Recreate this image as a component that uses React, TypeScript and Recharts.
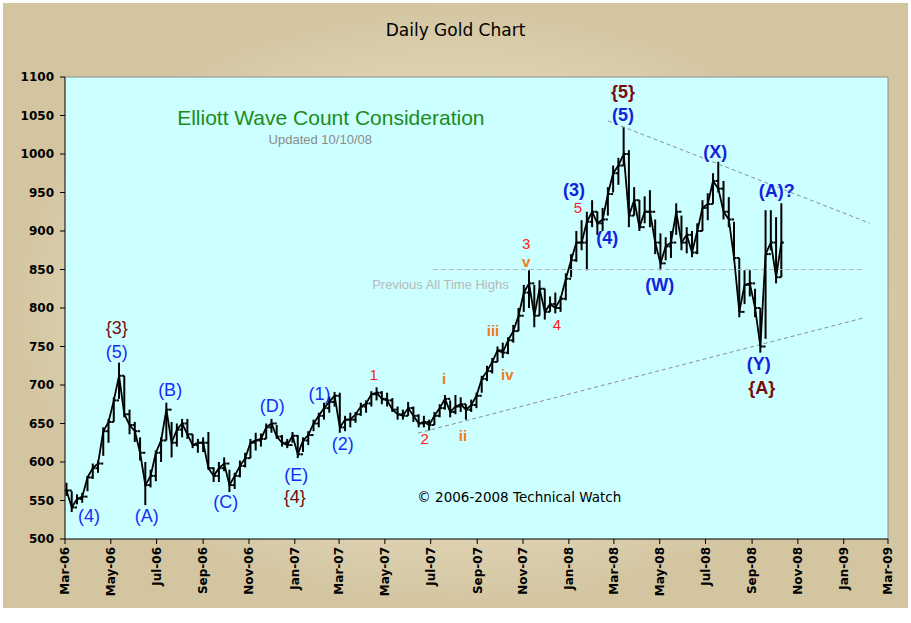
import React from 'react';
import { ComposedChart, Bar, Line, Scatter, XAxis, YAxis, ReferenceLine, CartesianGrid } from 'recharts';

const START = Date.UTC(2006, 2, 1);
const dayOf = (iso: string) => Math.round((Date.parse(iso + 'T00:00:00Z') - START) / 86400000);

// weekly bars (week ending Friday)
const weekDates = [
  '2006-03-03','2006-03-10','2006-03-17','2006-03-24','2006-03-31',
  '2006-04-07','2006-04-14','2006-04-21','2006-04-28',
  '2006-05-05','2006-05-12','2006-05-19','2006-05-26',
  '2006-06-02','2006-06-09','2006-06-16','2006-06-23','2006-06-30',
  '2006-07-07','2006-07-14','2006-07-21','2006-07-28',
  '2006-08-04','2006-08-11','2006-08-18','2006-08-25',
  '2006-09-01','2006-09-08','2006-09-15','2006-09-22','2006-09-29',
  '2006-10-06','2006-10-13','2006-10-20','2006-10-27',
  '2006-11-03','2006-11-10','2006-11-17','2006-11-24',
  '2006-12-01','2006-12-08','2006-12-15','2006-12-22','2006-12-29',
  '2007-01-05','2007-01-12','2007-01-19','2007-01-26',
  '2007-02-02','2007-02-09','2007-02-16','2007-02-23',
  '2007-03-02','2007-03-09','2007-03-16','2007-03-23','2007-03-30',
  '2007-04-06','2007-04-13','2007-04-20','2007-04-27',
  '2007-05-04','2007-05-11','2007-05-18','2007-05-25',
  '2007-06-01','2007-06-08','2007-06-15','2007-06-22','2007-06-29',
  '2007-07-06','2007-07-13','2007-07-20','2007-07-27',
  '2007-08-03','2007-08-10','2007-08-17','2007-08-24','2007-08-31',
  '2007-09-07','2007-09-14','2007-09-21','2007-09-28',
  '2007-10-05','2007-10-12','2007-10-19','2007-10-26',
  '2007-11-02','2007-11-09','2007-11-16','2007-11-23','2007-11-30',
  '2007-12-07','2007-12-14','2007-12-21','2007-12-28',
  '2008-01-04','2008-01-11','2008-01-18','2008-01-25',
  '2008-02-01','2008-02-08','2008-02-15','2008-02-22','2008-02-29',
  '2008-03-07','2008-03-14','2008-03-21','2008-03-28',
  '2008-04-04','2008-04-11','2008-04-18','2008-04-25',
  '2008-05-02','2008-05-09','2008-05-16','2008-05-23','2008-05-30',
  '2008-06-06','2008-06-13','2008-06-20','2008-06-27',
  '2008-07-04','2008-07-11','2008-07-18','2008-07-25',
  '2008-08-01','2008-08-08','2008-08-15','2008-08-22','2008-08-29',
  '2008-09-05','2008-09-12','2008-09-19','2008-09-26',
  '2008-10-03','2008-10-10',
];

const weekHigh = [
  573, 562, 558, 560, 582,
  598, 602, 645, 656,
  684, 729, 712, 668,
  652, 632, 600, 590, 615,
  632, 677, 652, 650,
  656, 656, 636, 630,
  632, 639, 593, 600, 606,
  590, 586, 602, 612,
  630, 638, 637, 650,
  656, 648, 635, 630, 639,
  635, 632, 640, 655,
  664, 677, 685, 691,
  690, 660, 664, 665, 677,
  680, 692, 697, 692,
  690, 683, 672, 668,
  678, 672, 662, 660, 655,
  665, 675, 687, 680,
  687, 684, 675, 681, 690,
  712, 725, 735, 750,
  755, 762, 778, 800,
  830, 849, 830, 836, 825,
  815, 820, 815, 845,
  870, 900, 914, 925,
  940, 925, 930, 957, 985,
  995, 1035, 1005, 957,
  940, 945, 953, 915,
  897, 892, 900, 936, 920,
  905, 900, 910, 940,
  949, 975, 990, 965,
  944, 912, 865, 849, 849,
  825, 800, 927, 927,
  918, 936,
];

const weekLow = [
  556, 535, 545, 547, 562,
  578, 586, 608, 625,
  652, 682, 658, 636,
  626, 602, 544, 567, 575,
  600, 628, 606, 620,
  632, 630, 618, 612,
  613, 590, 574, 574, 588,
  561, 565, 580, 593,
  605, 615, 620, 630,
  638, 630, 620, 618, 625,
  605, 613, 622, 640,
  645, 655, 664, 672,
  638, 640, 645, 651, 660,
  664, 672, 680, 675,
  672, 665, 655, 655,
  660, 652, 645, 645, 641,
  648, 658, 668, 658,
  662, 665, 655, 665, 670,
  690, 705, 715, 730,
  735, 740, 755, 770,
  795, 800, 775, 790, 785,
  795, 793, 795, 810,
  840, 860, 875, 849,
  905, 895, 900, 920, 950,
  960, 985, 905, 920,
  900, 910, 905, 870,
  849, 862, 865, 895, 875,
  871, 866, 870, 900,
  914, 935, 950, 915,
  905, 862, 788, 805, 815,
  788, 742, 760, 875,
  832, 840,
];

const weekClose = [
  563, 541, 552, 555, 580,
  592, 598, 640, 652,
  680, 712, 662, 648,
  640, 612, 570, 582, 612,
  628, 668, 625, 642,
  650, 636, 622, 625,
  625, 592, 582, 592, 598,
  570, 582, 595, 605,
  625, 628, 630, 645,
  650, 633, 625, 622, 634,
  610, 628, 635, 650,
  660, 670, 678, 686,
  645, 655, 655, 662, 672,
  676, 688, 690, 682,
  680, 668, 662, 660,
  670, 660, 650, 652, 648,
  660, 670, 682, 665,
  672, 675, 668, 674, 686,
  708, 718, 730, 745,
  742, 758, 770, 790,
  820, 832, 790, 825, 795,
  805, 800, 812, 838,
  862, 885, 885, 912,
  925, 910, 915, 948, 975,
  985, 1000, 920, 940,
  905, 925, 925, 885,
  858, 880, 885, 925, 885,
  895, 872, 900, 930,
  935, 965, 955, 925,
  915, 865, 795, 830, 832,
  800, 750, 870, 885,
  840, 885,
];

const tickDates = [
  '2006-03-01','2006-05-01','2006-07-01','2006-09-01','2006-11-01',
  '2007-01-01','2007-03-01','2007-05-01','2007-07-01','2007-09-01','2007-11-01',
  '2008-01-01','2008-03-01','2008-05-01','2008-07-01','2008-09-01','2008-11-01',
  '2009-01-01','2009-03-01',
];
const tickLabels = [
  'Mar-06','May-06','Jul-06','Sep-06','Nov-06',
  'Jan-07','Mar-07','May-07','Jul-07','Sep-07','Nov-07',
  'Jan-08','Mar-08','May-08','Jul-08','Sep-08','Nov-08',
  'Jan-09','Mar-09',
];
const yTicks = [500, 550, 600, 650, 700, 750, 800, 850, 900, 950, 1000, 1050, 1100];

// wave labels: text, anchor date, anchor price, style kind
const waveTexts = ['(4)','{3}','(5)','(A)','(B)','(C)','(D)','(E)','{4}','(1)','(2)','1','2','i','ii','iii','iv','3','v','4','5','(3)','(4)','{5}','(5)','(W)','(X)','(A)?','(Y)','{A}'];
const waveDates = ['2006-04-02','2006-05-09','2006-05-09','2006-06-18','2006-07-19','2006-10-01','2006-12-02','2007-01-03','2007-01-01','2007-02-03','2007-03-06','2007-04-16','2007-06-23','2007-07-19','2007-08-13','2007-09-22','2007-10-11','2007-11-05','2007-11-05','2007-12-16','2008-01-13','2008-01-08','2008-02-21','2008-03-13','2008-03-13','2008-05-01','2008-07-14','2008-10-04','2008-09-10','2008-09-14'];
const wavePrices = [530, 774, 743, 530, 693, 548, 673, 583, 555, 688, 624, 714, 631, 708, 634, 771, 714, 884, 861, 779, 930, 953, 891, 1080, 1051, 830, 1003, 952, 727, 696];
const waveKinds = ['blue','major','blue','blue','blue','blue','blue','blue','major','blue','blue','minor','minor','sub','sub','sub','sub','minor','sub','minor','minor','blueB','blueB','majorB','blueB','blueB','blueB','blueB','blueB','majorB'];

const noteTexts = ['Elliott Wave Count Consideration', 'Updated 10/10/08', 'Previous All Time Highs', '\u00A9 2006-2008 Technical Watch'];
const noteDates = ['2007-02-18', '2007-02-04', '2007-07-14', '2007-10-27'];
const notePrices = [1047, 1019, 831, 555];
const noteKinds = ['headline', 'updated', 'prev', 'copy'];

// trend lines
const prevHigh = 850;
const prevHighFrom = '2007-07-04';
const prevHighTo = '2009-01-27';
const lowerLine = { from: '2007-06-14', fromV: 637.5, to: '2009-01-27', toV: 787 };
const upperLine = { from: '2008-02-22', fromV: 1043, to: '2009-02-05', toV: 910 };

const SANS = 'Liberation Sans, Arial, sans-serif';
const VERD = 'DejaVu Sans, Verdana, sans-serif';
const STYLES: Record<string, any> = {
  blue: { fill: '#1a2cf5', fontSize: 18, fontWeight: 'normal', fontFamily: SANS },
  blueB: { fill: '#1522dc', fontSize: 18, fontWeight: 'bold', fontFamily: SANS },
  major: { fill: '#7a0c0c', fontSize: 18, fontWeight: 'normal', fontFamily: SANS },
  majorB: { fill: '#7a0c0c', fontSize: 18, fontWeight: 'bold', fontFamily: SANS },
  minor: { fill: '#ff2020', fontSize: 15, fontWeight: 'normal', fontFamily: SANS },
  sub: { fill: '#f07a20', fontSize: 15, fontWeight: 'bold', fontFamily: SANS },
  headline: { fill: '#1a8c1a', fontSize: 21, fontWeight: 'normal', fontFamily: SANS },
  updated: { fill: '#8a8a8a', fontSize: 13, fontWeight: 'normal', fontFamily: SANS },
  prev: { fill: '#b8b8b8', fontSize: 13, fontWeight: 'normal', fontFamily: SANS },
  copy: { fill: '#000000', fontSize: 13.5, fontWeight: 'normal', fontFamily: VERD },
};

const barData = weekDates.map((d, i) => ({
  t: dayOf(d),
  high: weekHigh[i],
  low: weekLow[i],
  close: weekClose[i],
  open: i > 0 ? weekClose[i - 1] : weekClose[i],
  range: [weekLow[i], weekHigh[i]],
}));

const labelData = [
  ...waveTexts.map((s, i) => ({ t: dayOf(waveDates[i]), v: wavePrices[i], text: s, kind: waveKinds[i] })),
  ...noteTexts.map((s, i) => ({ t: dayOf(noteDates[i]), v: notePrices[i], text: s, kind: noteKinds[i] })),
];

const tickDays = tickDates.map(dayOf);
const tickMap: Record<number, string> = {};
tickDays.forEach((d, i) => { tickMap[d] = tickLabels[i]; });

const OhlcShape = (props: any) => {
  const { x, y, width, height, payload } = props;
  if (x == null || y == null || height == null) return null;
  const top = Math.min(y, y + height);
  const h = Math.abs(height);
  const cx = x + width / 2;
  const span = payload.high - payload.low;
  const yc = span > 0 ? top + (h * (payload.high - payload.close)) / span : top;
  const yo = span > 0 ? top + (h * (payload.high - payload.open)) / span : top;
  return (
    <g>
      <line x1={cx} x2={cx} y1={top} y2={top + h} stroke="#000" strokeWidth={2} />
      <line x1={cx - 2.5} x2={cx} y1={yo} y2={yo} stroke="#000" strokeWidth={2} />
      <line x1={cx} x2={cx + 2.5} y1={yc} y2={yc} stroke="#000" strokeWidth={2} />
    </g>
  );
};

const LabelShape = (props: any) => {
  const { cx, cy, payload } = props;
  if (cx == null || cy == null) return null;
  const st = STYLES[payload.kind];
  return (
    <text x={cx} y={cy} textAnchor="middle" dominantBaseline="central" {...st}>
      {payload.text}
    </text>
  );
};

const XTick = (props: any) => {
  const { x, y, payload } = props;
  return (
    <text
      x={x}
      y={y + 1}
      transform={`rotate(-90, ${x}, ${y + 1})`}
      textAnchor="end"
      dy="0.36em"
      fontSize={12}
      fontWeight="bold"
      fontFamily={VERD}
      fill="#000"
    >
      {tickMap[payload.value]}
    </text>
  );
};

export default function App() {
  return (
    <div style={{ position: 'absolute', left: 0, top: 0, width: 911, height: 623, background: '#ffffff', overflow: 'hidden' }}>
      <div
        style={{
          position: 'absolute', left: 3, top: 3, width: 905, height: 605,
          background: 'radial-gradient(ellipse farthest-side at 50% 50%, #ece3ca 0%, #e6dcc0 55%, #d3c5a0 100%)',
        }}
      />
      <div
        style={{
          position: 'absolute', left: 0, top: 19, width: 911, textAlign: 'center',
          fontFamily: VERD, fontSize: 17, color: '#000', lineHeight: '22px',
        }}
      >
        Daily Gold Chart
      </div>
      <div style={{ position: 'absolute', left: 0, top: 0 }}>
        <ComposedChart width={911} height={623} data={barData} margin={{ top: 77, right: 23, bottom: 34, left: 8 }}>
          <CartesianGrid horizontal={false} vertical={false} fill="#ccffff" stroke="none" />
          <XAxis
            type="number"
            dataKey="t"
            domain={[0, 1096]}
            ticks={tickDays}
            interval={0}
            tick={<XTick />}
            tickSize={5}
            height={50}
            axisLine={{ stroke: '#000' }}
            tickLine={{ stroke: '#000' }}
            allowDataOverflow
          />
          <YAxis
            type="number"
            domain={[500, 1100]}
            ticks={yTicks}
            interval={0}
            width={57}
            tickSize={5}
            tickMargin={6}
            axisLine={{ stroke: '#000' }}
            tickLine={{ stroke: '#000' }}
            tick={{ fontSize: 12, fontWeight: 'bold', fontFamily: VERD, fill: '#000' }}
            allowDataOverflow
          />
          <ReferenceLine y={1100} stroke="#8c8c8c" />
          <ReferenceLine x={1096} stroke="#8c8c8c" />
          <ReferenceLine
            segment={[{ x: dayOf(prevHighFrom), y: prevHigh }, { x: dayOf(prevHighTo), y: prevHigh }]}
            stroke="#b4b4b4" strokeDasharray="5 3"
          />
          <ReferenceLine
            segment={[{ x: dayOf(lowerLine.from), y: lowerLine.fromV }, { x: dayOf(lowerLine.to), y: lowerLine.toV }]}
            stroke="#8e8e8e" strokeDasharray="4 3"
          />
          <ReferenceLine
            segment={[{ x: dayOf(upperLine.from), y: upperLine.fromV }, { x: dayOf(upperLine.to), y: upperLine.toV }]}
            stroke="#8e8e8e" strokeDasharray="4 3"
          />
          <Line dataKey="close" stroke="#000" strokeWidth={1.8} dot={false} isAnimationActive={false} />
          <Bar dataKey="range" barSize={2} shape={<OhlcShape />} isAnimationActive={false} />
          <Scatter data={labelData} dataKey="v" shape={<LabelShape />} isAnimationActive={false} />
        </ComposedChart>
      </div>
    </div>
  );
}
